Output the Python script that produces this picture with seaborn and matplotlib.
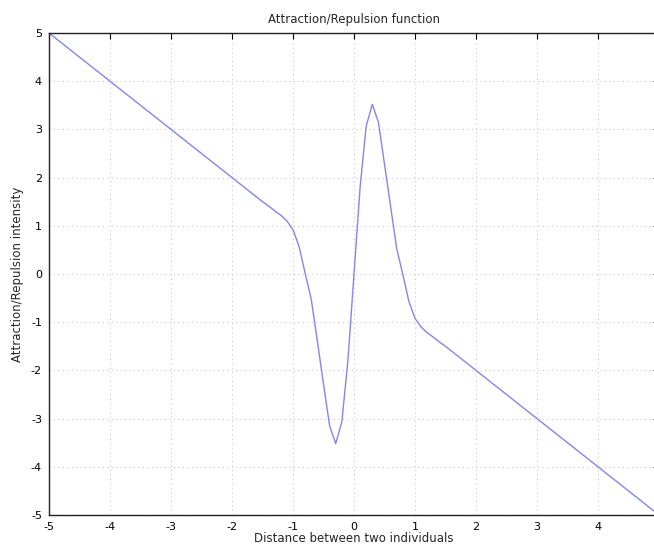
import matplotlib
matplotlib.use("Agg")
import matplotlib.pyplot as plt
import seaborn as sns
import pandas as pd

# distance values (x) and intensity (y)
distance = [-5.0, -4.0, -3.0, -2.0, -1.5, -1.4, -1.3, -1.2, -1.1, -1.0, -0.9, -0.8,
            -0.7, -0.6, -0.5, -0.4, -0.3, -0.2, -0.1, 0.0, 0.1, 0.2, 0.3, 0.4,
            0.5, 0.6, 0.7, 0.8, 0.9, 1.0, 1.1, 1.2, 1.3, 1.4, 1.5, 2.0, 3.0, 4.0, 5.0]
intensity = [5.0, 4.0, 3.0, 2.0, 1.5, 1.41, 1.31, 1.22, 1.1, 0.92, 0.57, 0.01,
             -0.53, -1.4, -2.28, -3.15, -3.52, -3.07, -1.8, 0.0, 1.8, 3.07, 3.52, 3.15,
             2.28, 1.4, 0.53, -0.01, -0.57, -0.92, -1.1, -1.22, -1.31, -1.41, -1.5, -2.0, -3.0, -4.0, -5.0]

x_ticks = [-5, -4, -3, -2, -1, 0, 1, 2, 3, 4]   # the "5" label falls off the picture
y_ticks = [-5, -4, -3, -2, -1, 0, 1, 2, 3, 4, 5]

df = pd.DataFrame({"distance": distance, "intensity": intensity})

sns.set_style("white")
plt.rcParams["font.family"] = ["DejaVu Sans"]
plt.rcParams["axes.unicode_minus"] = False

fig = plt.figure(figsize=(6.54, 5.49), dpi=100)
ax = fig.add_axes([49 / 654, 34 / 549, 610 / 654, 482 / 549])

sns.lineplot(data=df, x="distance", y="intensity", ax=ax, color="#8585ee",
             linewidth=1.0, sort=False)

ax.set_xlim(-5, 5)
ax.set_ylim(-5, 5)
ax.set_xticks(x_ticks)
ax.set_yticks(y_ticks)
ax.grid(True, linestyle=(0, (1, 3)), color="#c8c8c8", linewidth=0.8)
ax.tick_params(direction="in", length=4, width=0.8, labelsize=8, colors="black",
               top=True, right=True, pad=5)
for s in ax.spines.values():
    s.set_color("#222222")
    s.set_linewidth(1.0)

ax.set_title("Attraction/Repulsion function", fontsize=8.5, pad=7)
ax.set_xlabel("Distance between two individuals", fontsize=8.5, labelpad=0)
ax.set_ylabel("Attraction/Repulsion intensity", fontsize=8.5, labelpad=5)

fig.savefig("out.png", dpi=100)
